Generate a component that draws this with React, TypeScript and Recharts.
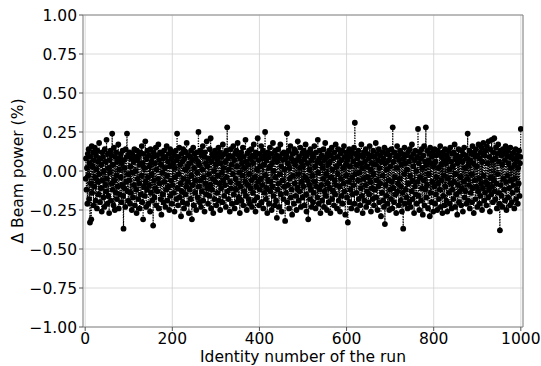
import React from "react"
import {
  LineChart,
  Line,
  XAxis,
  YAxis,
  CartesianGrid,
  ReferenceArea,
  Label,
} from "recharts"

// Δ beam power (%) per run, runs 1..1000 (20 per line)
const deltaPower = [
  -0.05, 0.08, -0.12, 0.02, -0.21, 0.11, -0.03, 0.14, -0.18, 0.05, -0.33, 0.09, -0.08, -0.31, 0.16, -0.14, 0.03, 0.12, -0.22, 0.07,
  -0.10, 0.15, -0.04, -0.19, 0.10, 0.01, -0.24, 0.13, -0.07, 0.06, -0.15, 0.18, -0.02, -0.20, 0.08, -0.11, 0.04, -0.26, 0.12, -0.06,
  0.09, -0.17, 0.00, -0.23, 0.14, -0.09, 0.06, -0.13, 0.20, -0.05, -0.21, 0.11, -0.16, 0.02, -0.27, 0.07, -0.01, 0.13, -0.19, 0.10,
  -0.08, 0.24, -0.12, 0.04, -0.22, 0.15, -0.06, -0.25, 0.09, -0.14, 0.12, -0.03, -0.18, 0.06, -0.10, 0.17, -0.24, 0.01, 0.08, -0.15,
  -0.04, 0.11, -0.20, 0.05, -0.09, 0.13, -0.16, -0.37, 0.07, -0.11, 0.02, -0.23, 0.14, -0.07, 0.09, 0.24, -0.13, -0.02, -0.19, 0.10,
  -0.06, 0.12, -0.21, 0.03, -0.14, 0.08, -0.25, 0.11, -0.01, -0.17, 0.06, -0.09, 0.14, -0.22, 0.00, 0.09, -0.12, -0.27, 0.13, -0.05,
  0.07, -0.18, 0.10, -0.08, -0.24, 0.04, 0.12, -0.15, -0.03, 0.16, -0.20, 0.05, -0.31, 0.11, -0.10, 0.02, -0.16, 0.19, -0.07, -0.23,
  0.08, -0.12, 0.13, -0.04, -0.21, 0.10, -0.09, 0.03, -0.26, 0.14, -0.14, 0.06, -0.02, -0.19, 0.09, -0.35, 0.12, -0.06, -0.17, 0.05,
  -0.11, 0.15, -0.22, 0.01, 0.10, -0.13, -0.05, 0.17, -0.24, 0.07, -0.08, 0.12, -0.18, 0.04, -0.28, 0.11, -0.01, -0.15, 0.08, -0.20,
  0.13, -0.07, 0.02, -0.23, 0.09, -0.12, 0.16, -0.03, -0.19, 0.06, -0.10, 0.11, -0.25, 0.03, 0.14, -0.16, -0.06, 0.08, -0.21, 0.12,
  -0.09, 0.05, -0.14, 0.10, -0.26, 0.02, -0.04, 0.13, -0.18, 0.07, 0.24, -0.11, -0.22, 0.09, -0.02, 0.15, -0.17, 0.04, -0.08, -0.29,
  0.11, -0.13, 0.06, -0.20, 0.14, -0.05, -0.24, 0.08, 0.01, -0.15, 0.12, -0.10, 0.18, -0.21, 0.03, -0.07, 0.10, -0.27, 0.05, -0.12,
  0.09, -0.18, 0.13, -0.03, -0.31, 0.07, -0.09, 0.15, -0.22, 0.02, 0.11, -0.14, -0.06, 0.08, -0.25, 0.12, -0.01, -0.17, 0.06, 0.25,
  -0.10, 0.04, -0.20, 0.13, -0.06, -0.23, 0.10, -0.13, 0.01, 0.16, -0.19, -0.04, 0.09, -0.26, 0.12, -0.08, 0.05, -0.15, 0.19, -0.11,
  0.03, -0.21, 0.08, -0.02, -0.16, 0.14, -0.09, 0.21, -0.24, 0.06, -0.12, 0.11, -0.05, -0.27, 0.09, 0.00, -0.18, 0.13, -0.07, 0.04,
  -0.22, 0.10, -0.14, 0.07, -0.03, 0.15, -0.19, -0.08, 0.12, -0.25, 0.05, -0.11, 0.09, -0.01, -0.20, 0.17, -0.06, 0.02, -0.16, 0.11,
  -0.09, 0.06, -0.23, 0.13, -0.04, 0.28, -0.13, 0.08, -0.18, 0.01, 0.10, -0.26, -0.07, 0.14, -0.11, 0.04, -0.21, 0.09, -0.02, 0.16,
  -0.15, 0.07, -0.24, 0.11, -0.05, -0.12, 0.13, -0.20, 0.03, 0.18, -0.08, -0.17, 0.10, -0.01, -0.27, 0.08, -0.10, 0.12, -0.19, 0.05,
  -0.03, 0.15, -0.22, 0.09, -0.13, 0.02, -0.07, 0.20, -0.16, 0.06, -0.25, 0.11, -0.09, 0.04, -0.18, 0.13, -0.02, -0.21, 0.08, -0.11,
  0.14, -0.06, -0.23, 0.10, -0.14, 0.05, 0.17, -0.19, -0.04, 0.09, -0.26, 0.12, -0.10, 0.01, -0.17, 0.21, -0.07, 0.07, -0.22, 0.11,
  -0.12, 0.03, -0.05, 0.16, -0.20, 0.08, -0.09, 0.13, -0.24, 0.04, -0.14, 0.10, 0.25, -0.03, -0.18, 0.07, -0.11, -0.27, 0.12, -0.06,
  0.09, -0.21, 0.02, 0.15, -0.13, -0.07, 0.11, -0.25, 0.05, -0.10, 0.18, -0.16, 0.00, 0.08, -0.22, 0.13, -0.04, -0.19, 0.10, -0.30,
  0.06, -0.12, 0.14, -0.08, -0.23, 0.09, -0.02, 0.17, -0.15, 0.03, -0.26, 0.11, -0.06, 0.07, -0.18, 0.12, -0.10, 0.01, -0.32, 0.08,
  -0.14, 0.10, 0.24, -0.20, 0.05, -0.09, 0.13, -0.24, 0.02, -0.05, 0.16, -0.17, 0.08, -0.12, -0.28, 0.11, -0.03, 0.06, -0.21, 0.14,
  -0.08, 0.04, -0.16, 0.12, -0.25, 0.07, -0.11, 0.19, -0.02, -0.19, 0.09, -0.13, 0.02, 0.15, -0.23, 0.06, -0.07, 0.11, -0.17, 0.03,
  -0.10, 0.13, -0.22, 0.08, -0.04, 0.17, -0.15, -0.26, 0.10, -0.06, 0.05, -0.31, 0.12, -0.09, 0.01, -0.18, 0.14, -0.12, 0.07, -0.23,
  0.11, -0.03, -0.20, 0.09, -0.14, 0.16, -0.07, 0.03, -0.24, 0.12, -0.10, 0.06, -0.17, 0.20, -0.01, -0.21, 0.08, -0.12, 0.13, -0.27,
  0.05, -0.09, 0.10, -0.19, 0.02, -0.05, 0.14, -0.23, 0.07, -0.13, 0.18, -0.16, -0.02, 0.09, -0.25, 0.11, -0.08, 0.04, -0.20, 0.13,
  -0.11, 0.06, -0.27, 0.10, -0.04, 0.15, -0.18, 0.01, -0.13, 0.08, -0.22, 0.12, -0.06, -0.15, 0.17, -0.09, 0.03, -0.24, 0.09, -0.02,
  0.14, -0.19, 0.05, -0.10, -0.26, 0.11, -0.05, 0.07, -0.16, 0.13, -0.21, 0.02, -0.08, 0.16, -0.13, 0.09, -0.28, 0.04, -0.03, 0.12,
  -0.17, 0.07, -0.33, 0.10, -0.07, 0.14, -0.20, 0.03, -0.12, 0.09, -0.24, 0.12, -0.04, -0.15, 0.06, -0.09, 0.15, -0.21, 0.31, -0.02,
  0.11, -0.14, 0.04, -0.25, 0.08, -0.06, 0.13, -0.18, -0.01, 0.10, -0.22, 0.05, -0.11, 0.17, -0.16, 0.02, -0.27, 0.09, -0.05, 0.12,
  -0.19, 0.06, -0.09, 0.14, -0.23, 0.03, -0.13, 0.11, -0.04, -0.20, 0.08, -0.15, 0.16, -0.07, 0.01, -0.26, 0.10, -0.11, 0.05, -0.18,
  0.13, -0.02, -0.22, 0.09, -0.12, 0.04, 0.18, -0.17, -0.06, 0.11, -0.25, 0.07, -0.10, 0.14, -0.20, 0.02, -0.08, 0.10, -0.29, 0.06,
  -0.14, 0.12, -0.03, -0.19, 0.08, -0.23, 0.15, -0.34, 0.05, -0.09, 0.11, -0.16, 0.01, -0.21, 0.13, -0.06, 0.07, -0.25, 0.10, -0.12,
  0.03, -0.18, 0.14, -0.07, -0.24, 0.28, -0.11, 0.06, -0.20, 0.12, -0.04, -0.15, 0.09, -0.27, 0.02, 0.16, -0.13, -0.08, 0.10, -0.22,
  0.07, -0.05, 0.13, -0.19, -0.10, 0.04, -0.26, 0.11, -0.14, -0.37, 0.08, -0.02, 0.15, -0.21, 0.05, -0.12, 0.10, -0.17, 0.01, -0.24,
  0.12, -0.08, 0.06, -0.20, 0.14, -0.03, -0.23, 0.09, -0.13, 0.17, -0.06, -0.18, 0.03, 0.11, -0.27, 0.07, -0.10, 0.13, -0.15, 0.00,
  -0.21, 0.09, -0.07, 0.27, -0.16, 0.05, -0.25, 0.12, -0.04, 0.08, -0.19, 0.14, -0.11, 0.02, -0.28, 0.10, -0.06, 0.16, -0.22, 0.06,
  -0.12, 0.28, -0.17, 0.04, -0.09, 0.13, -0.24, 0.07, -0.02, 0.11, -0.29, 0.15, -0.14, 0.05, -0.20, 0.09, -0.07, 0.12, -0.26, 0.03,
  -0.10, 0.14, -0.21, 0.06, -0.15, 0.10, -0.04, -0.25, 0.13, -0.08, 0.02, -0.18, 0.11, -0.12, 0.16, -0.23, 0.04, -0.06, 0.09, -0.27,
  0.12, -0.16, 0.07, -0.03, -0.22, 0.14, -0.10, 0.05, -0.19, 0.10, -0.26, 0.08, -0.05, 0.13, -0.14, 0.01, -0.21, 0.15, -0.08, 0.06,
  -0.24, 0.11, -0.12, 0.03, -0.18, 0.12, -0.07, 0.17, -0.23, 0.08, -0.02, -0.15, 0.10, -0.28, 0.05, -0.09, 0.14, -0.20, 0.07, -0.13,
  0.09, -0.04, -0.22, 0.13, -0.11, 0.06, -0.26, 0.11, -0.07, 0.15, -0.17, 0.02, -0.13, 0.10, -0.21, 0.08, -0.05, 0.24, -0.19, 0.04,
  -0.09, 0.13, -0.24, 0.07, -0.14, 0.11, -0.02, -0.20, 0.16, -0.11, 0.05, -0.27, 0.12, -0.06, 0.09, -0.18, 0.14, -0.10, 0.03, -0.23,
  0.10, -0.13, 0.17, -0.05, -0.21, 0.08, -0.16, 0.12, -0.08, 0.15, -0.25, 0.06, -0.11, 0.18, -0.03, -0.19, 0.10, -0.14, 0.13, -0.07,
  -0.22, 0.16, -0.09, 0.05, -0.17, 0.19, -0.12, 0.09, -0.26, 0.14, -0.04, -0.15, 0.20, -0.10, 0.07, -0.20, 0.12, -0.06, 0.21, -0.13,
  0.08, -0.18, 0.15, -0.08, -0.24, 0.11, -0.02, 0.17, -0.14, 0.06, -0.21, -0.38, 0.13, -0.09, 0.10, -0.16, 0.04, -0.23, 0.14, -0.05,
  0.12, -0.12, 0.07, -0.19, 0.16, -0.07, -0.25, 0.10, -0.03, 0.13, -0.17, 0.05, -0.11, 0.09, -0.22, 0.15, -0.06, 0.02, -0.20, 0.11,
  -0.14, 0.08, -0.09, 0.12, -0.24, 0.04, -0.05, 0.14, -0.18, 0.07, -0.12, 0.10, -0.21, 0.02, -0.08, 0.13, -0.16, 0.05, 0.09, 0.27,
]

const xTicks = [0, 200, 400, 600, 800, 1000]
const yTicks = [-1, -0.75, -0.5, -0.25, 0, 0.25, 0.5, 0.75, 1]

const data = deltaPower.map((v, i) => ({ run: i + 1, power: v }))

const FONT = "'DejaVu Sans', sans-serif"
const FS = 15.5
const tickStyle = { fill: "#000", fontSize: FS, fontFamily: FONT }

const fmtY = (v: number) => {
  const s = Math.abs(v).toFixed(2)
  return v < 0 ? "\u2212" + s : s
}

export default function App() {
  return (
    <div style={{ position: "absolute", left: 0, top: 0, background: "#fff" }}>
      <LineChart
        width={541}
        height={366}
        data={data}
        margin={{ top: 15, right: 18, bottom: 0, left: 0 }}
      >
        <CartesianGrid stroke="#d0d0d0" strokeWidth={0.8} />
        <XAxis
          dataKey="run"
          type="number"
          domain={[-5, 1005]}
          ticks={xTicks}
          allowDataOverflow
          height={39}
          tick={tickStyle}
          tickSize={4}
          tickLine={{ stroke: "#555" }}
          axisLine={false}
        >
          <Label
            value="Identity number of the run"
            position="insideBottom"
            offset={4}
            style={{ fill: "#000", fontSize: FS, fontFamily: FONT }}
          />
        </XAxis>
        <YAxis
          type="number"
          domain={[-1, 1]}
          ticks={yTicks}
          allowDataOverflow
          width={83}
          tick={tickStyle}
          tickSize={4}
          tickLine={{ stroke: "#555" }}
          axisLine={false}
          tickFormatter={fmtY}
        >
          <Label
            content={() => (
              <text
                x={18}
                y={171}
                transform="rotate(-90 18 171)"
                textAnchor="middle"
                dominantBaseline="central"
                style={{ fill: "#000", fontSize: FS, fontFamily: FONT }}
              >
                Δ Beam power (%)
              </text>
            )}
          />
        </YAxis>
        <ReferenceArea
          x1={-5}
          x2={1005}
          y1={-1}
          y2={1}
          fill="none"
          stroke="#888"
          strokeWidth={1}
          ifOverflow="visible"
        />
        <Line
          type="linear"
          dataKey="power"
          stroke="#000"
          strokeWidth={1.2}
          strokeDasharray="1.2 1.4"
          dot={{ r: 2.9, fill: "#000", stroke: "#000", strokeWidth: 0 }}
          activeDot={false}
          isAnimationActive={false}
        />
      </LineChart>
    </div>
  )
}
